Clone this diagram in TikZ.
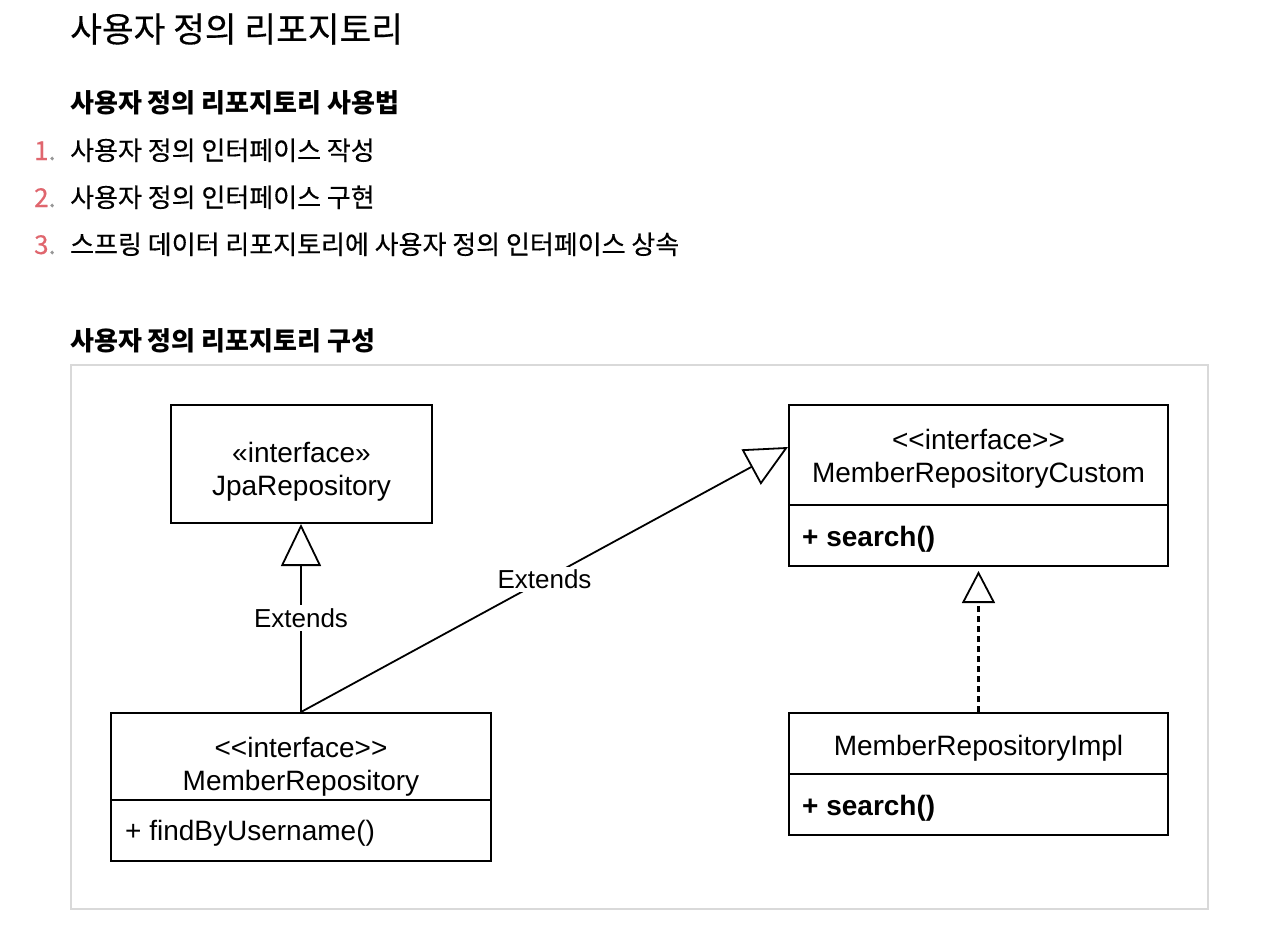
\documentclass[tikz,border=0pt]{standalone}
\usepackage{fontspec}
\setmainfont{Liberation Sans}[Ligatures=TeXOff]
\newfontfamily\kr{Noto Sans CJK KR}[UprightFeatures={FakeBold=0.35}]
\usetikzlibrary{arrows.meta}
\definecolor{numred}{RGB}{224,102,110}
\definecolor{dotgray}{RGB}{150,150,150}
\definecolor{framegray}{RGB}{217,217,217}
\begin{document}
\begin{tikzpicture}[x=1pt,y=-1pt,
  diag/.style={font=\fontsize{28}{33}\selectfont},
  umlbox/.style={draw, line width=2pt, inner sep=0pt, minimum width=#1},
  txt/.style={diag, align=center, inner sep=0pt},
  meth/.style={diag, anchor=west, inner sep=0pt},
  lbl/.style={font=\fontsize{26}{30}\selectfont, fill=white, inner sep=3pt},
  inh/.style={line width=1.8pt, -{Triangle[open, length=42pt, width=40pt]}},
  realize/.style={line width=2.2pt, dash pattern=on 6pt off 4pt, -{Triangle[open, length=32pt, width=33pt, line width=1.8pt]}},
  krtitle/.style={anchor=base west, inner sep=0pt, font=\kr\fontsize{34.5}{40}\selectfont},
  krhead/.style={anchor=base west, inner sep=0pt, font=\kr\bfseries\fontsize{26}{30}\selectfont},
  kritem/.style={anchor=base west, inner sep=0pt, font=\kr\fontsize{26}{30}\selectfont},
  krnum/.style={anchor=base east, inner sep=0pt, font=\kr\fontsize{26}{30}\selectfont},
]
\useasboundingbox (0,0) rectangle (1280,946);
\fill[white] (0,0) rectangle (1280,946);

% headings and list
\node[krtitle] (title) at (70,42) {사용자 정의 리포지토리};
\node[krhead] (sub1) at (70,112) {사용자 정의 리포지토리 사용법};
\node[krnum] (n1) at (56,160) {\textcolor{numred}{1}\textcolor{dotgray}{.}};
\node[kritem] (i1) at (70,160) {사용자 정의 인터페이스 작성};
\node[krnum] (n2) at (56,207) {\textcolor{numred}{2}\textcolor{dotgray}{.}};
\node[kritem] (i2) at (70,207) {사용자 정의 인터페이스 구현};
\node[krnum] (n3) at (56,254) {\textcolor{numred}{3}\textcolor{dotgray}{.}};
\node[kritem] (i3) at (70,254) {스프링 데이터 리포지토리에 사용자 정의 인터페이스 상속};
\node[krhead] (sub2) at (70,350) {사용자 정의 리포지토리 구성};

% frame
\node[draw=framegray, line width=2pt, minimum width=1137pt, minimum height=544pt, inner sep=0pt] (frame) at (639.5,637) {};

% JpaRepository
\node[umlbox=261pt, minimum height=118pt] (jpa) at (301.5,464) {};
\node[txt] (jpat) at (301.5,471.5) {«interface»\\JpaRepository};

% MemberRepositoryCustom
\node[umlbox=379pt, minimum height=100pt] (mrc) at (978.5,455) {};
\node[umlbox=379pt, minimum height=61pt] (mrcb) at (978.5,535.5) {};
\node[txt] (mrct) at (978.5,459) {<<interface>>\\MemberRepositoryCustom};
\node[meth] (mrcm) at (802,539) {\bfseries + search()};

% MemberRepository
\node[umlbox=380pt, minimum height=87pt] (mr) at (301,756.5) {};
\node[umlbox=380pt, minimum height=61pt] (mrb) at (301,830.5) {};
\node[txt] (mrt) at (301,767) {<<interface>>\\MemberRepository};
\node[meth] (mrm) at (125,833) {+ findByUsername()};

% MemberRepositoryImpl
\node[umlbox=379pt, minimum height=61pt] (mri) at (978.5,743.5) {};
\node[umlbox=379pt, minimum height=61pt] (mrib) at (978.5,804.5) {};
\node[txt] (mrit) at (978.5,748) {MemberRepositoryImpl};
\node[meth] (mrim) at (802,808) {\bfseries + search()};

% connectors
\draw[inh] (mr.north) -- node[lbl] (e1) {Extends} (mr.north |- jpa.south);
\draw[inh] (mr.north) -- node[lbl] (e2) {Extends} ([yshift=8pt]mrc.west);
\draw[realize] (mri.north) -- ([yshift=-4pt]mrcb.south);
\end{tikzpicture}
\end{document}
